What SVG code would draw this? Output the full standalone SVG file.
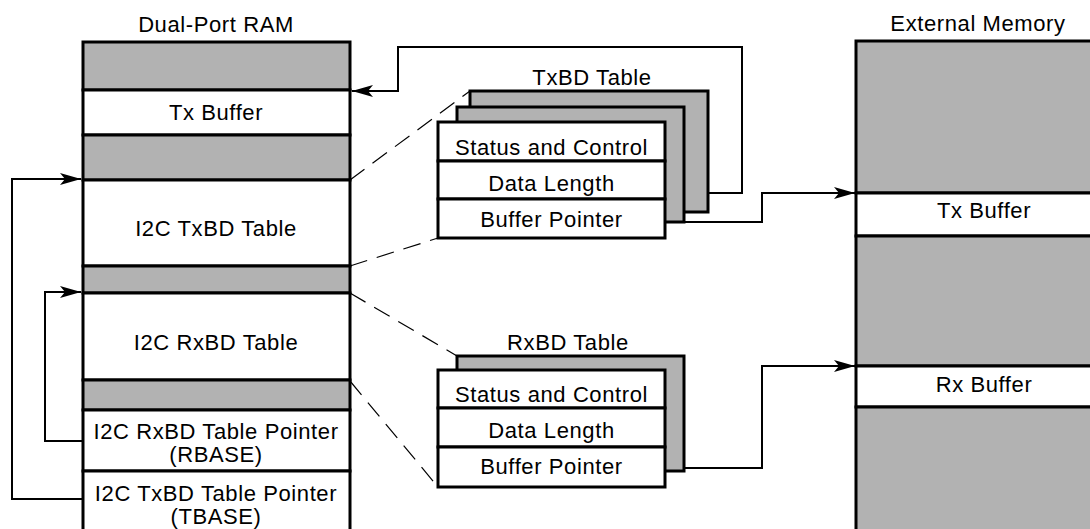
<svg xmlns="http://www.w3.org/2000/svg" width="1090" height="529" viewBox="0 0 1090 529">
<style>
.t{font-family:"Liberation Sans",Arial,sans-serif;font-size:22px;letter-spacing:0.6px;fill:#000;text-anchor:middle}
.g{fill:#b2b2b2;stroke:#000;stroke-width:3}
.w{fill:#fff;stroke:#000;stroke-width:3}
.c{fill:none;stroke:#000;stroke-width:2}
.d{fill:none;stroke:#000;stroke-width:1.2;stroke-dasharray:18 10}
</style>
<defs>
<marker id="a" markerUnits="userSpaceOnUse" markerWidth="24" markerHeight="14" refX="22" refY="7" orient="auto">
<path d="M22,7 L1,1 L6,7 L1,13 Z" fill="#000"/>
</marker>
</defs>
<rect width="1090" height="529" fill="#fff"/>
<g id="dpram">
<text class="t" x="216" y="32">Dual-Port RAM</text>
<rect class="g" x="83" y="42" width="267" height="48"/>
<rect class="w" x="83" y="90" width="267" height="45"/>
<rect class="g" x="83" y="135" width="267" height="45"/>
<rect class="w" x="83" y="180" width="267" height="86"/>
<rect class="g" x="83" y="266" width="267" height="27"/>
<rect class="w" x="83" y="293" width="267" height="87"/>
<rect class="g" x="83" y="380" width="267" height="30"/>
<rect class="w" x="83" y="410" width="267" height="61"/>
<rect class="w" x="83" y="471" width="267" height="70"/>
<text class="t" x="216" y="120">Tx Buffer</text>
<text class="t" x="216" y="236">I2C TxBD Table</text>
<text class="t" x="216" y="350">I2C RxBD Table</text>
<text class="t" x="216" y="439">I2C RxBD Table Pointer</text>
<text class="t" x="216" y="462">(RBASE)</text>
<text class="t" x="216" y="501">I2C TxBD Table Pointer</text>
<text class="t" x="216" y="524">(TBASE)</text>
</g>
<g id="txbd">
<text class="t" x="592" y="85">TxBD Table</text>
<rect class="g" x="470" y="91" width="238" height="121"/>
<rect class="g" x="457" y="107" width="227" height="115"/>
<rect class="w" x="438" y="122" width="227" height="39"/>
<rect class="w" x="438" y="161" width="227" height="38"/>
<rect class="w" x="438" y="199" width="227" height="39"/>
<text class="t" x="551.5" y="155">Status and Control</text>
<text class="t" x="551.5" y="191">Data Length</text>
<text class="t" x="551.5" y="227">Buffer Pointer</text>
</g>
<g id="rxbd">
<text class="t" x="568" y="350">RxBD Table</text>
<rect class="g" x="457" y="356" width="227" height="115"/>
<rect class="w" x="438" y="370" width="227" height="38"/>
<rect class="w" x="438" y="408" width="227" height="39"/>
<rect class="w" x="438" y="447" width="227" height="40"/>
<text class="t" x="551.5" y="402">Status and Control</text>
<text class="t" x="551.5" y="438">Data Length</text>
<text class="t" x="551.5" y="474">Buffer Pointer</text>
</g>
<g id="extmem">
<text class="t" x="978" y="31">External Memory</text>
<rect class="g" x="856" y="41" width="256" height="152"/>
<rect class="w" x="856" y="193" width="256" height="43"/>
<rect class="g" x="856" y="236" width="256" height="130"/>
<rect class="w" x="856" y="366" width="256" height="41"/>
<rect class="g" x="856" y="407" width="256" height="140"/>
<text class="t" x="984" y="218">Tx Buffer</text>
<text class="t" x="984" y="392">Rx Buffer</text>
</g>
<g id="connectors">
<polyline class="c" points="83,499 12,499 12,179 81,179" marker-end="url(#a)"/>
<polyline class="c" points="83,441 45,441 45,292 81,292" marker-end="url(#a)"/>
<polyline class="c" points="708,193 742,193 742,47 398,47 398,91 352,91" marker-end="url(#a)"/>
<polyline class="c" points="684,222 762,222 762,193 855,193" marker-end="url(#a)"/>
<polyline class="c" points="684,468 762,468 762,366 855,366" marker-end="url(#a)"/>
<line class="d" x1="350" y1="180" x2="470" y2="91"/>
<line class="d" x1="350" y1="266" x2="438" y2="238"/>
<line class="d" x1="350" y1="293" x2="457" y2="356"/>
<line class="d" x1="350" y1="381" x2="438" y2="487"/>
</g>
</svg>
